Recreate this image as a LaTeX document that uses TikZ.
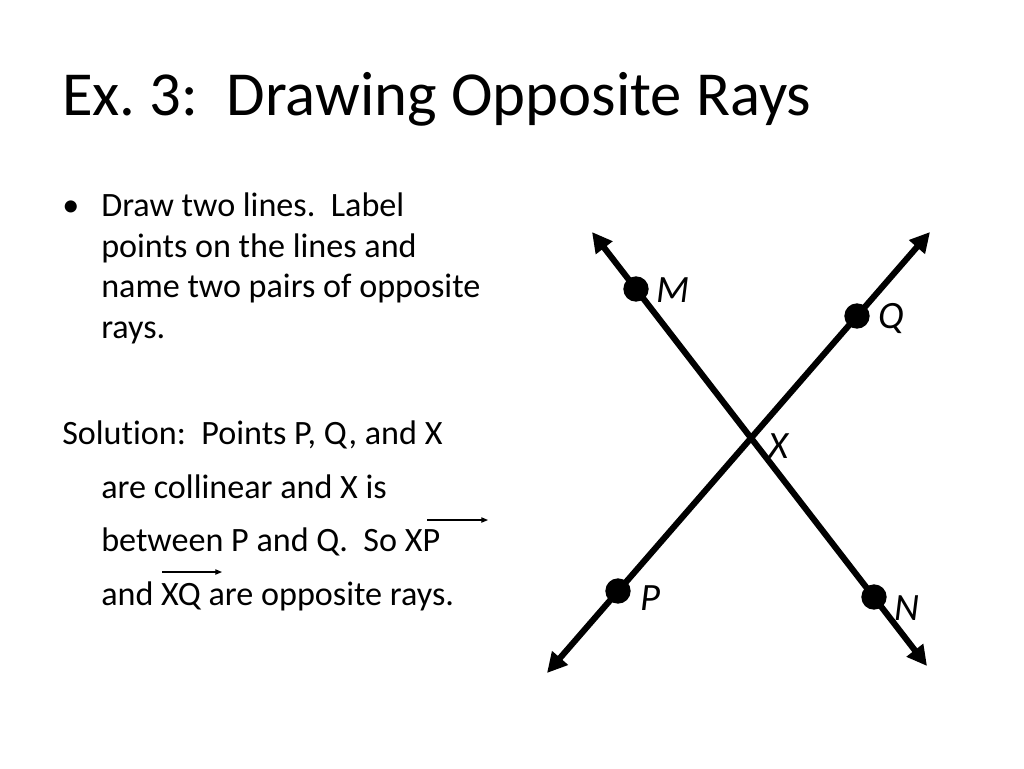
\documentclass[tikz,border=0pt]{standalone}
\usepackage{fontspec}
\setmainfont{Carlito}[Ligatures=NoCommon]
\usetikzlibrary{arrows.meta,positioning}
\frenchspacing
\tikzset{
rayline/.style={line width=4.6pt, {Triangle[length=15pt,width=15pt]}-{Triangle[length=15pt,width=15pt]}}, % the two lines
dot/.style={circle, fill=black, inner sep=0pt, minimum size=19pt}, % points on the lines
ptlabel/.style={font=\fontsize{29}{32}\selectfont\itshape, inner sep=0pt},
txt/.style={anchor=base west, inner sep=0pt, font=\fontsize{25.6}{30}\selectfont},
heading/.style={anchor=base west, inner sep=0pt, font=\fontsize{47}{56}\selectfont},
vec/.style={line width=0.8pt, -{Triangle[length=5pt,width=4pt]}},
}
\begin{document}
\begin{tikzpicture}[x=0.75pt,y=-0.75pt,on grid]
   \useasboundingbox (0,0) rectangle (1024,768);
   % title
   \node[heading] (title) at (62,115) {Ex. 3:\ \ Drawing Opposite Rays};
   % bullet text
   \node[txt] (bul) at (62,216) {•};
   \node[txt] (t1) at (101,216) {Draw two lines.\ \ Label};
   \node[txt] (t2) at (101,257) {points on the lines and};
   \node[txt] (t3) at (101,297) {name two pairs of opposite};
   \node[txt] (t4) at (101,338) {rays.};
   \node[txt] (s1) at (62,444) {Solution:\ \ Points P, Q, and X};
   \node[txt] (s2) at (101,498) {are collinear and X is};
   \node[txt] (s3) at (101,551) {between P and Q.\ \ So XP};
   \node[txt] (s4) at (101,605) {and XQ are opposite rays.};
   \coordinate (xpA) at (427,520);
   \coordinate (xpB) at (488,520);
   \coordinate (xqA) at (162,572);
   \coordinate (xqB) at (222,572);
   \draw[vec] (xpA) -- (xpB);
   \draw[vec] (xqA) -- (xqB);
   % the two lines
   \coordinate (mEnd) at (592,232);
   \coordinate (nEnd) at (927,666);
   \coordinate (pEnd) at (547,673);
   \coordinate (qEnd) at (930,232);
   \draw[rayline] (mEnd) -- (nEnd);
   \draw[rayline] (pEnd) -- (qEnd);
   \node[dot] (M) at (636,289) {};
   \node[dot] (N) at (874,597) {};
   \node[dot] (Q) at (857,316) {};
   \node[dot] (P) at (618,591) {};
   \coordinate (X) at (750.7,437);
   \node[ptlabel] (labM) [below right=1pt and 28pt of M] {M};
   \node[ptlabel] (labQ) [below right=2pt and 26pt of Q] {Q};
   \node[ptlabel] (labX) [below right=-3pt and 13pt of X] {X};
   \node[ptlabel] (labP) [below right=5pt and 24pt of P] {P};
   \node[ptlabel] (labN) [below right=8pt and 25pt of N] {N};
\end{tikzpicture}
\end{document}
